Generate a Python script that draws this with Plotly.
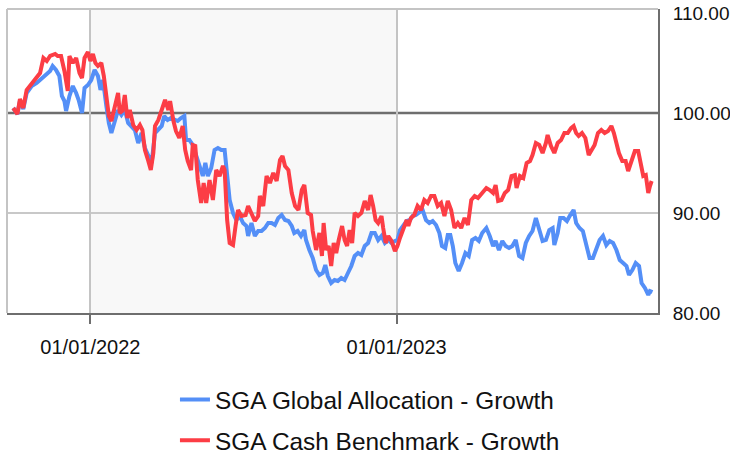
import pandas as pd
import plotly.graph_objects as go

# Day offsets relative to 2022-01-01 and index values
base_date = "2022-01-01"

blue_name = "SGA Global Allocation - Growth"
blue_days = [-92, -87, -84, -80, -76, -70, -64, -60, -56, -52, -48, -45, -41, -37, -34, -31, -29, -25, -21, -17,
             -14, -10, -7, -3, 1, 5, 9, 12, 15, 19, 22, 25, 29, 33, 37, 41, 45, 49, 53, 57,
             61, 65, 69, 73, 77, 81, 85, 88, 92, 96, 100, 104, 108, 112, 114, 118, 122, 126, 130, 134,
             137, 140, 144, 148, 152,
             156, 160, 163, 166, 170, 174, 178, 182, 186, 188, 192, 196, 200, 204, 208, 212, 216, 220, 224, 228,
             232, 236, 240, 243, 247, 251, 255, 257, 261, 265, 269, 273, 277, 280, 283, 287, 291, 295, 299, 303,
             307, 311, 315, 319, 323, 327, 331, 335, 339, 343, 347, 351, 355, 359, 363, 366, 369, 373, 377, 381,
             384, 388, 392, 396, 400, 404,
             408, 412, 416, 419, 423, 426, 429, 432, 435, 439, 443, 447, 451, 455, 459, 463, 467, 472, 476, 480,
             483, 487, 491, 495, 499, 503, 507, 511, 515, 519, 523, 527, 531, 535, 539, 543, 547, 551, 553, 557,
             560, 564, 568, 572, 576, 579, 583, 587, 591, 595, 599, 603, 607, 611, 615, 619, 623, 627, 631, 635,
             639, 642, 646, 650, 654, 657, 661, 665, 667, 670]
blue_values = [100.5, 99.9, 101.2, 100.4, 102, 102.7, 103, 103.3, 103.5, 103.8, 104.2, 104.7, 104.3, 103.7, 101.7,
               101.2, 100.2, 101.7, 102.7, 102, 101.3, 100, 102.5, 102.8, 103.3, 104.3, 103.7, 102.3, 103.3, 100.7,
               99, 98, 99.3, 100.3, 99.8, 100.3, 99, 98.7, 98.3, 97, 98, 96.5, 95.8, 95, 98,
               98.3, 98.7, 99.7, 99.3, 99.5, 99.3, 99.2, 99.5, 99.7, 97.3, 97.3, 96.8, 95.7, 94.7, 93.7,
               95, 93.7, 94.5, 96.3, 96.5,
               96.3, 96.3, 93.7, 91.3, 90, 89.3, 89.7, 89, 88.7, 87.7, 89, 87.7, 88.2, 88.2, 88.5,
               89, 89, 88.8, 89.5, 89.8, 89.3, 89.2, 88.7, 88, 88.2, 87.7, 88.3, 87.3, 86.3, 85.5,
               84.3, 83.8, 84, 84.8, 83.7, 83, 83.3, 83.2, 83.5, 83.3, 84, 84.7, 85.7, 86, 85.8,
               86.7, 87, 88, 88, 87.3, 87.7, 87, 87.3, 87, 87.2, 87.3, 88.3, 88.8, 89.2, 89.3,
               89.7, 89.8, 90, 90.3, 89.3, 89,
               89.2, 88.8, 88, 86.7, 86.5, 87.8, 87.8, 86.7, 85, 84.2, 85, 86, 85.7, 87.3, 87.5, 87.2, 88, 88.5, 87.7, 86.7,
               87.2, 86.3, 87.2, 86.7, 86.5, 86.7, 87.3, 85.7, 85.5, 87, 87.7, 88.2, 89.5, 88.2, 87.2, 87.3, 88.3, 88.5, 86.8, 88,
               89.5, 89.5, 89.2, 89.8, 90.3, 89, 88.5, 88.2, 87, 85.5, 85.5, 86.5, 87.3, 87.7, 86.8, 87.2, 87, 86.3, 85.3, 85,
               84.7, 83.8, 84.3, 85, 84.7, 83, 82.5, 81.8, 82.2, 82.1]

red_name = "SGA Cash Benchmark - Growth"
red_days = [-92, -87, -84, -80, -76, -70, -64, -60, -56, -52, -48, -42, -39, -35, -31, -27, -25, -21, -17, -13,
            -10, -7, -3, 0, 3, 6, 9, 13, 16, 19, 22, 25, 29, 33, 35, 38, 41, 44, 47, 51,
            55, 59, 62, 65, 69, 72, 75, 77, 81, 85, 89, 93, 95, 99, 102, 106, 110, 113, 116, 120,
            122, 125, 128, 132, 135, 138, 142, 146, 150, 154, 158,
            160, 163, 166, 170, 173, 176, 180, 185, 188, 192, 196, 200, 202, 206, 210, 214, 218, 222, 226, 229,
            232, 236, 240, 244, 248, 252, 255, 259, 263, 265, 269, 273, 276, 278, 281, 284, 287, 290, 293, 296,
            300, 303, 306, 309, 312, 315, 319, 323, 327, 331, 334, 337, 340, 343, 347, 349, 352, 355, 359, 363,
            366, 369, 373, 377, 379, 382, 386, 390, 394, 398, 402, 406,
            410, 414, 418, 422, 426, 430, 434, 438, 442, 446, 450, 454, 458, 462, 467, 472, 476, 480, 483, 486,
            490, 494, 498, 502, 506, 508, 512, 516, 520, 524, 527, 531, 535, 539, 543, 545, 549, 553, 557, 561,
            565, 569, 573, 576, 579, 582, 586, 590, 594, 598, 601, 605, 609, 613, 617, 621, 624, 627, 630, 634,
            638, 641, 645, 649, 653, 655, 659, 662, 665, 667, 669]
red_values = [100.5, 99.9, 101.4, 100.5, 102.3, 103, 103.7, 104, 105.5, 105.2, 105.7, 105.9, 105.7, 105.7, 104.2,
              102.2, 105.7, 105, 105.5, 104, 103.5, 105.5, 106.1, 105.2, 105.9, 105, 104.7, 105, 103.7, 101.7,
              99.7, 99.2, 100.7, 102, 100, 100.2, 101.8, 99.5, 100.3, 98.8, 98.3, 98.8, 98.3, 96.3, 95.2,
              94.3, 96, 98.7, 99.3, 100.3, 101.3, 100.3, 101.2, 99.2, 98.2, 97.5, 98.7, 96.3, 95.2, 94.3,
              96.8, 96.7, 93.3, 91, 93, 91, 93.3, 91.3, 94.3, 93.7, 94.7,
              94.3, 89.3, 87, 86.8, 88.7, 90.3, 89.7, 89.8, 90.7, 90, 89.2, 89.7, 91.7, 90.7, 93.7,
              93, 94, 93.2, 95.3, 95.7, 94.7, 94.3, 92, 90.7, 90.3, 92.3, 92.8, 90, 89.8, 88.2,
              86.3, 88, 85.7, 89, 86.3, 86.7, 84.7, 87, 86, 87.3, 88.7, 87.3, 86.7, 88.3, 87,
              90, 89.7, 90, 91.2, 90.3, 91.8, 90.7, 89.3, 89, 89.7, 88.5, 87, 87.7, 87.2, 86.2,
              86.7, 87.5, 88.3, 89.3, 88.7, 89.5, 89.8, 90.7, 90.3, 91.3, 91, 91.7,
              91.7, 90.7, 91, 89.7, 91.2, 90.3, 88.5, 89, 88.5, 89.5, 88.8, 91.3, 91.7, 91.5, 92,
              92.5, 92.3, 92, 92.8, 91.2, 91.3, 92, 92.3, 93.7, 93.8, 92.5, 93.7, 93.5, 95, 95.2,
              95.8, 97, 96.8, 96, 97, 97.8, 96.7, 96, 97, 97.3, 98, 98, 98.5, 98.7, 98,
              97.7, 98, 97.5, 95.8, 96.3, 96.8, 98, 98.3, 98, 98.2, 98.7, 98, 97, 96, 95.2,
              95.2, 94.2, 95.3, 96.2, 96.2, 95.5, 93.7, 93.8, 92, 92.7, 93.2]

x_tick_vals = ["2022-01-01", "2023-01-01"]
x_tick_text = ["01/01/2022", "01/01/2023"]
y_tick_vals = [80, 90, 100, 110]
highlight_start, highlight_end = "2022-01-01", "2023-01-01"
reference_level = 100
grid_level = 90


def to_dates(days):
    return pd.Timestamp(base_date) + pd.to_timedelta(days, unit="D")


FONT = "Arial, Liberation Sans, Helvetica, sans-serif"
BLUE = "#548ff7"
RED = "#fc3d45"

fig = go.Figure()
fig.add_trace(go.Scatter(x=to_dates(blue_days), y=blue_values, name=blue_name, mode="lines",
                         line=dict(color=BLUE, width=4), legendgroup="a"))
fig.add_trace(go.Scatter(x=to_dates(red_days), y=red_values, name=red_name, mode="lines",
                         line=dict(color=RED, width=4), legendgroup="b"))

shapes = [
    dict(type="rect", xref="x", yref="paper", x0=highlight_start, x1=highlight_end, y0=0, y1=1,
         fillcolor="#f8f8f8", line=dict(width=0), layer="below"),
    dict(type="line", xref="paper", yref="y", x0=0, x1=1, y0=grid_level, y1=grid_level,
         line=dict(color="#c8c8c8", width=2), layer="between"),
    dict(type="line", xref="paper", yref="y", x0=0, x1=1, y0=reference_level, y1=reference_level,
         line=dict(color="#6e6e6e", width=2.5), layer="between"),
    dict(type="line", xref="paper", yref="paper", x0=0, x1=0, y0=0, y1=1,
         line=dict(color="#c4c4c4", width=2), layer="between"),
    dict(type="line", xref="paper", yref="paper", x0=0, x1=1, y0=1, y1=1,
         line=dict(color="#c4c4c4", width=2), layer="between"),
]

fig.update_layout(
    width=730, height=456,
    margin=dict(l=7, r=72, t=9, b=143, pad=0, autoexpand=False),
    paper_bgcolor="white", plot_bgcolor="white",
    font=dict(family=FONT, color="#111111", size=20),
    shapes=shapes,
    showlegend=True,
    legend=dict(orientation="v", x=0.258, y=-0.211,
                xanchor="left", yanchor="top", font=dict(size=24.4, family=FONT, color="#111111"),
                tracegroupgap=6, traceorder="grouped", bgcolor="rgba(0,0,0,0)"),
    xaxis=dict(type="date", range=["2021-09-23 14:00", "2023-11-08 14:00"],
               tickvals=x_tick_vals, ticktext=x_tick_text, tickangle=0,
               showgrid=True, gridcolor="#c4c4c4", gridwidth=2,
               ticks="outside", ticklen=9, tickwidth=2, tickcolor="#6e6e6e",
               showline=True, linecolor="#6e6e6e", linewidth=2,
               tickfont=dict(size=20, family=FONT), ticklabelstandoff=6,
               zeroline=False, fixedrange=True, automargin=False),
    yaxis=dict(side="right", range=[80, 110.4], tickvals=y_tick_vals, tickformat=".2f",
               showgrid=False, ticks="", showline=True, linecolor="#6e6e6e", linewidth=2,
               tickfont=dict(size=19, family=FONT), ticklabelstandoff=9,
               zeroline=False, fixedrange=True, automargin=False),
)

fig.write_html("out.html", config={"displayModeBar": False},
               post_script="document.body.style.margin='0';document.body.style.overflow='hidden';")
